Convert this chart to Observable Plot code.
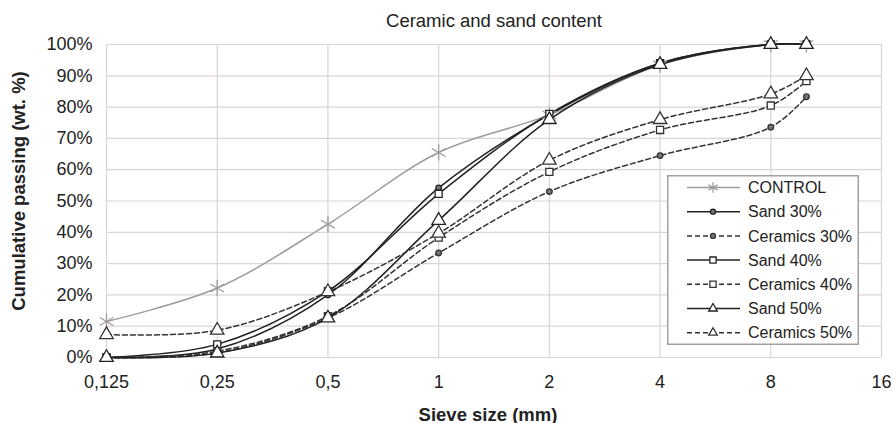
<!DOCTYPE html>
<html><head><meta charset="utf-8">
<script src="https://cdn.jsdelivr.net/npm/d3@7"></script>
<script src="https://cdn.jsdelivr.net/npm/@observablehq/plot@0.6"></script>
<style>
body{margin:0;background:#fff}
#wrap{position:relative;width:893px;height:423px;font-family:"Liberation Sans",Arial,Helvetica,sans-serif}
#legend{position:absolute;left:667px;top:175px}
</style></head><body><div id="wrap"></div>
<script>
// ---- data ----
const sieveSizes = [0.125, 0.25, 0.5, 1, 2, 4, 8, 10];
const xTicks = [0.125, 0.25, 0.5, 1, 2, 4, 8, 16];
const yTicks = [0, 10, 20, 30, 40, 50, 60, 70, 80, 90, 100];
const seriesNames = ["CONTROL", "Sand 30%", "Ceramics 30%", "Sand 40%", "Ceramics 40%", "Sand 50%", "Ceramics 50%"];
const control     = [11.5, 22.2, 42.6, 65.5, 77.5, 93.5, 100, 100];
const sand30      = [0, 2.7, 20, 54.2, 77.6, 94, 100, 100];
const ceramics30  = [0, 1.5, 12.6, 33.4, 53, 64.5, 73.6, 83.3];
const sand40      = [0, 4.2, 21.2, 52.3, 77.8, 94, 100, 100];
const ceramics40  = [0, 2, 13.2, 38.3, 59.3, 72.7, 80.5, 88.3];
const sand50      = [0, 1.4, 12.6, 43.8, 76, 93.6, 100, 100];
const ceramics50  = [7.3, 8.7, 21, 39.7, 63, 76, 84.2, 90];
const seriesValues = [control, sand30, ceramics30, sand40, ceramics40, sand50, ceramics50];
const titleText = "Ceramic and sand content";
const xLabel = "Sieve size (mm)";
const yLabel = "Cumulative passing (wt. %)";

// ---- styles ----
const styles = {
  "CONTROL":      {stroke: "#a19b9b", dash: null,  symbol: "asterisk", r: 7.5, lr: 5,   fill: "none",  sw: 1.5},
  "Sand 30%":     {stroke: "#222",    dash: null,  symbol: "circle",   r: 2.8, lr: 2.5, fill: "#777",  sw: 1.5},
  "Ceramics 30%": {stroke: "#333",    dash: "5,3", symbol: "circle",   r: 2.8, lr: 2.5, fill: "#777",  sw: 1.5},
  "Sand 40%":     {stroke: "#222",    dash: null,  symbol: "square",   r: 4,   lr: 3.5, fill: "white", sw: 1.5},
  "Ceramics 40%": {stroke: "#333",    dash: "5,3", symbol: "square",   r: 4,   lr: 3.5, fill: "white", sw: 1.5},
  "Sand 50%":     {stroke: "#222",    dash: null,  symbol: "triangle", r: 5,   lr: 3.2, fill: "white", sw: 1.5},
  "Ceramics 50%": {stroke: "#333",    dash: "5,3", symbol: "triangle", r: 5,   lr: 3.2, fill: "white", sw: 1.5}
};

const rows = [];
seriesNames.forEach((name, i) => sieveSizes.forEach((x, j) => rows.push({series: name, x, y: seriesValues[i][j]})));

const font = '"Liberation Sans",Arial,Helvetica,sans-serif';
const gridColor = "#dcd4d2";

const marks = [
  Plot.gridX(xTicks, {stroke: gridColor, strokeOpacity: 1, strokeWidth: 1.2}),
  Plot.gridY(yTicks, {stroke: gridColor, strokeOpacity: 1, strokeWidth: 1.2}),
];
seriesNames.forEach(name => {
  const s = styles[name];
  const data = rows.filter(d => d.series === name);
  marks.push(Plot.line(data, {x: "x", y: "y", curve: "catmull-rom", stroke: s.stroke, strokeWidth: s.sw, strokeDasharray: s.dash}));
});
seriesNames.forEach(name => {
  const s = styles[name];
  const data = rows.filter(d => d.series === name);
  marks.push(Plot.dot(data, {x: "x", y: "y", symbol: s.symbol, r: s.r, stroke: s.stroke, fill: s.fill, strokeWidth: 1.3}));
});
marks.push(
  Plot.axisX(xTicks, {tickSize: 0, tickPadding: 18, fontSize: 18, tickFormat: d => String(d).replace(".", ","), label: null}),
  Plot.axisY(yTicks, {tickSize: 0, tickPadding: 14, fontSize: 18, tickFormat: d => d + "%", label: null}),
  Plot.text([titleText], {frameAnchor: "top", lineAnchor: "bottom", dy: -18, fontSize: 18.5, fill: "#222"}),
  Plot.text([xLabel], {frameAnchor: "bottom", lineAnchor: "bottom", dy: 63, dx: -6, fontSize: 18.5, fontWeight: "bold", fill: "#222"})
);

const chart = Plot.plot({
  width: 893, height: 423,
  marginLeft: 106, marginRight: 12, marginTop: 44, marginBottom: 66,
  style: {fontFamily: font, fontSize: "18px", color: "#222", background: "#fff"},
  x: {type: "log", base: 2, domain: [0.125, 16]},
  y: {domain: [0, 100]},
  marks
});
const wrap = document.getElementById("wrap");
wrap.appendChild(chart);

// y-axis title (rotated)
d3.select(chart).append("text")
  .attr("transform", "translate(19,191) rotate(-90)")
  .attr("text-anchor", "middle").attr("dy", "0.35em")
  .attr("font-size", 18.5).attr("font-weight", "bold").attr("fill", "#222")
  .attr("font-family", font)
  .text(yLabel);

// ---- legend overlay ----
const lw = 192, lh = 170;
const leg = d3.select(wrap).append("svg").attr("id", "legend").attr("width", lw).attr("height", lh)
  .style("font-family", font);
leg.append("rect").attr("x", 0.75).attr("y", 0.75).attr("width", lw - 1.5).attr("height", lh - 1.5)
  .attr("fill", "#fff").attr("stroke", "#a5a0a0").attr("stroke-width", 1.5);
const symMap = {asterisk: d3.symbolAsterisk, circle: d3.symbolCircle, square: d3.symbolSquare, triangle: d3.symbolTriangle};
seriesNames.forEach((name, i) => {
  const s = styles[name];
  const y = 12.5 + i * 24.2;
  const g = leg.append("g").attr("transform", `translate(0,${y})`);
  g.append("line").attr("x1", 20).attr("x2", 73).attr("y1", 0).attr("y2", 0)
    .attr("stroke", s.stroke).attr("stroke-width", s.sw).attr("stroke-dasharray", s.dash);
  g.append("path").attr("transform", "translate(46,0)")
    .attr("d", d3.symbol(symMap[s.symbol], s.lr * s.lr * Math.PI)())
    .attr("fill", s.fill).attr("stroke", s.stroke).attr("stroke-width", 1.3);
  g.append("text").attr("x", 81).attr("y", 0).attr("dy", "0.35em")
    .attr("font-size", 16).attr("fill", "#222").text(name);
});
</script>
</body></html>
